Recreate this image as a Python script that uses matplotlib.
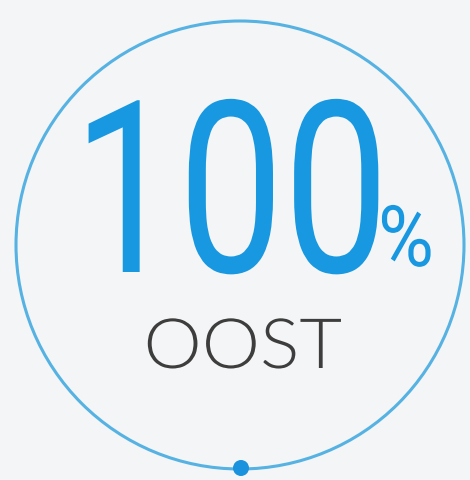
import matplotlib
matplotlib.use("Agg")
import matplotlib.pyplot as plt
from matplotlib.patches import Circle
from matplotlib.patheffects import AbstractPathEffect
from matplotlib.transforms import Affine2D
from matplotlib import font_manager as fm

# data
value_text = "100"
unit_text = "%"
label_text = "OOST"

W, H = 470, 480
fig = plt.figure(figsize=(W / 100, H / 100), dpi=100)
fig.patch.set_facecolor("#f4f5f6")
ax = fig.add_axes([0, 0, 1, 1])
ax.set_xlim(0, W)
ax.set_ylim(H, 0)
ax.set_aspect("equal")
ax.axis("off")


def font_props(family, weight="normal", size=12):
    try:
        path = fm.findfont(fm.FontProperties(family=family, weight=weight),
                           fallback_to_default=False)
        return fm.FontProperties(fname=path, size=size)
    except Exception:
        return fm.FontProperties(family="DejaVu Sans", weight=weight, size=size)


class HScale(AbstractPathEffect):
    """Squeeze/stretch glyphs horizontally around the text anchor."""

    def __init__(self, sx, x_data):
        super().__init__()
        self.sx = sx
        self.x_data = x_data

    def draw_path(self, renderer, gc, tpath, affine, rgbFace=None):
        cx = ax.transData.transform((self.x_data, 0))[0]
        t = affine + Affine2D().translate(-cx, 0).scale(self.sx, 1).translate(cx, 0)
        renderer.draw_path(gc, tpath, t, rgbFace)


ring = Circle((240, 245), 224, fill=False, edgecolor="#55b2e2", linewidth=2.2)
ax.add_patch(ring)
dot = Circle((241, 468), 8, facecolor="#1a92dd", edgecolor="none")
ax.add_patch(dot)

vx, vy = 231, 272
ax.text(vx, vy, value_text, color="#1898e0",
        fontproperties=font_props("Roboto", size=173),
        ha="center", va="baseline", path_effects=[HScale(0.78, vx)])
ux, uy = 406, 266
ax.text(ux, uy, unit_text, color="#1898e0",
        fontproperties=font_props("Roboto", size=61),
        ha="center", va="baseline", path_effects=[HScale(0.9, ux)])
lx, ly = 243, 368
ax.text(lx, ly, label_text, color="#3d3d3d",
        fontproperties=font_props("Lato", weight=300, size=50),
        ha="center", va="baseline", path_effects=[HScale(1.06, lx)])

fig.savefig("out.png", dpi=100, facecolor=fig.get_facecolor())
